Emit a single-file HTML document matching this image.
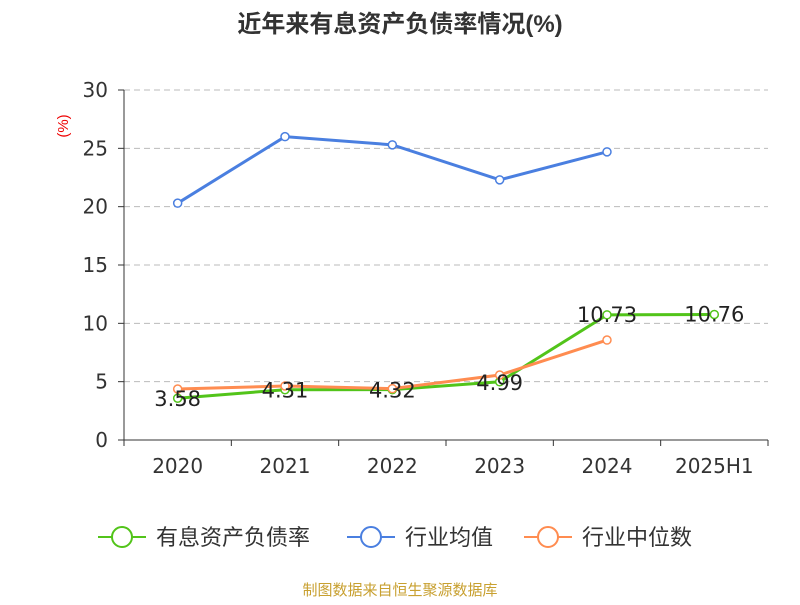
<!DOCTYPE html>
<html><head><meta charset="utf-8"><style>
body{margin:0;background:#fff;}
svg{font-family:"Liberation Sans","Noto Sans CJK SC",sans-serif;}
.num{font-family:"DejaVu Sans","Liberation Sans",sans-serif;}
</style></head><body>
<svg id="c" width="800" height="600" viewBox="0 0 800 600">
<text x="400" y="32" text-anchor="middle" font-size="24" font-weight="bold" fill="#333">近年来有息资产负债率情况(%)</text>
<text transform="translate(68,126) rotate(-90)" text-anchor="middle" font-size="15" fill="#e00">(%)</text>
<g id="grid"></g><g id="axes"></g><g id="series"></g>
<g>
<g><line x1="98" y1="537" x2="146" y2="537" stroke="#52c41a" stroke-width="2"/><circle cx="122" cy="537" r="10" fill="#fff" stroke="#52c41a" stroke-width="2"/><text x="156" y="545" font-size="22" fill="#333">有息资产负债率</text></g>
<g><line x1="347" y1="537" x2="395" y2="537" stroke="#4a7fe0" stroke-width="2"/><circle cx="371" cy="537" r="10" fill="#fff" stroke="#4a7fe0" stroke-width="2"/><text x="405" y="545" font-size="22" fill="#333">行业均值</text></g>
<g><line x1="524" y1="537" x2="572" y2="537" stroke="#ff8c50" stroke-width="2"/><circle cx="548" cy="537" r="10" fill="#fff" stroke="#ff8c50" stroke-width="2"/><text x="582" y="545" font-size="22" fill="#333">行业中位数</text></g>
</g>
<text x="400" y="595" text-anchor="middle" font-size="15" fill="#c8a030">制图数据来自恒生聚源数据库</text>
</svg>
<script>
const categories=["2020","2021","2022","2023","2024","2025H1"];
const yTicks=[0,5,10,15,20,25,30];
const debtRatio=[3.58,4.31,4.32,4.99,10.73,10.76];
const industryAvg=[20.3,26.0,25.3,22.3,24.7,null];
const industryMedian=[4.37,4.63,4.4,5.57,8.57,null];
const NS="http://www.w3.org/2000/svg";
const x0=124,x1=768,y0=440,y1=90,bw=(x1-x0)/categories.length;
const xS=i=>x0+bw*(i+0.5), yS=v=>y0-(v/30)*(y0-y1);
function mk(t,a,p){const e=document.createElementNS(NS,t);for(const k in a)e.setAttribute(k,a[k]);p.appendChild(e);return e;}
const grid=document.getElementById('grid'),axes=document.getElementById('axes'),ser=document.getElementById('series');
yTicks.forEach(v=>{
 if(v>0){const g=mk('line',{x1:x0,x2:x1,y1:yS(v),y2:yS(v),stroke:'#bbb','stroke-dasharray':'6,4'},grid);
 
 }
 const t=mk('text',{x:x0-16,y:yS(v)+7,'text-anchor':'end','font-size':20,fill:'#333',class:'num'},axes);t.textContent=v;
 
 
 mk('line',{x1:x0-6,x2:x0,y1:yS(v),y2:yS(v),stroke:'#333'},axes);
});
mk('line',{x1:x0,x2:x0,y1:y1,y2:y0,stroke:'#333'},axes);
mk('line',{x1:x0,x2:x1,y1:y0,y2:y0,stroke:'#333'},axes);
for(let i=0;i<=categories.length;i++)mk('line',{x1:x0+bw*i,x2:x0+bw*i,y1:y0,y2:y0+6,stroke:'#333'},axes);
categories.forEach((c,i)=>{const t=mk('text',{x:xS(i),y:473,'text-anchor':'middle','font-size':20,fill:'#333',class:'num'},axes);t.textContent=c;
 
 });
function line(data,color,name){
 const g=mk('g',{},ser);
 
 
 const pts=data.map((v,i)=>v==null?null:[xS(i),yS(v)]).filter(p=>p);
 mk('polyline',{points:pts.map(p=>p.join(',')).join(' '),fill:'none',stroke:color,'stroke-width':3},g);
 pts.forEach(p=>{const c=mk('circle',{cx:p[0],cy:p[1],r:4,fill:'#fff',stroke:color,'stroke-width':1.5},g);
 
 });
}
line(industryAvg,'#4a7fe0','industry-avg-line');
line(debtRatio,'#52c41a','debt-ratio-line');
line(industryMedian,'#ff8c50','industry-median-line');
debtRatio.forEach((v,i)=>{const t=mk('text',{x:xS(i),y:yS(v)+(i<4?8:7),'text-anchor':'middle','font-size':21,fill:'#222',class:'num'},ser);t.textContent=v.toFixed(2);
 
 });
</script>
</body></html>
